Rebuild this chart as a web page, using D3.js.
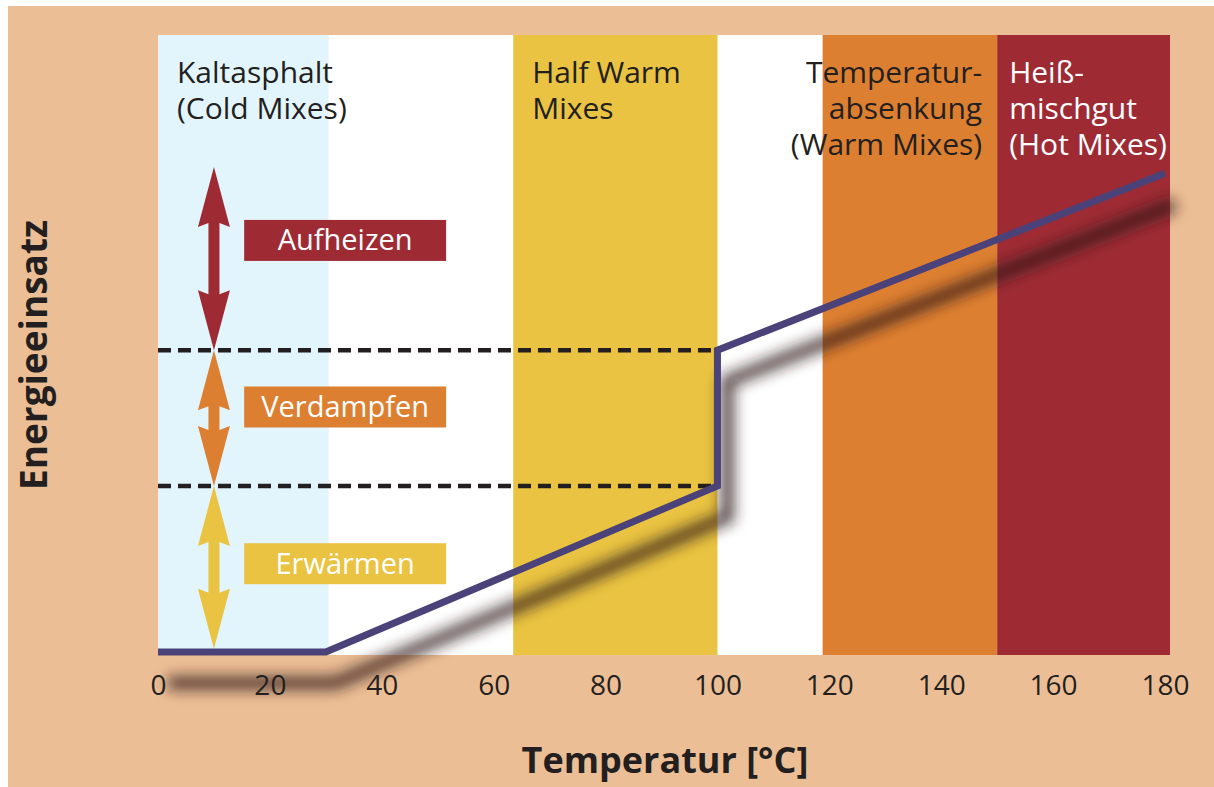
<!DOCTYPE html>
<html>
<head>
<meta charset="utf-8">
<script src="https://cdn.jsdelivr.net/npm/d3@7"></script>
<style>
  html, body { margin: 0; padding: 0; background: #ffffff; }
  svg { display: block; }
  text { font-family: "Open Sans", "Noto Sans", sans-serif; }
</style>
</head>
<body>
<svg id="chart" width="1214" height="787"></svg>
<script>
// ---------- data ----------
const tempTicks = [0, 20, 40, 60, 80, 100, 120, 140, 160, 180];

const bandKeys   = ["cold", "half", "warm", "hot"];
const bandStart  = [0, 63.5, 118.8, 150];
const bandEnd    = [30.5, 100, 150, 180.9];
const bandColors = ["#e3f5fc", "#e9c341", "#dd7f31", "#9e2b34"];
const bandLabels = [
  ["Kaltasphalt", "(Cold Mixes)"],
  ["Half Warm", "Mixes"],
  ["Temperatur-", "absenkung", "(Warm Mixes)"],
  ["Heiß-", "mischgut", "(Hot Mixes)"]
];

const curveTemp   = [0, 30, 100, 100, 180];
const curveEnergy = [0, 0, 26.9, 48.9, 77.6];

const levelEnergy = [26.9, 48.9];

const phaseNames   = ["Erwärmen", "Verdampfen", "Aufheizen"];
const phaseFrom    = [0.5, 26.9, 48.9];
const phaseTo      = [26.9, 48.9, 78.6];
const phaseLabelAt = [14.3, 39.7, 66.7];
const phaseColors  = ["#e9c341", "#dd7f31", "#9e2b34"];
const phaseArrowTemp = 10;

// ---------- layout ----------
const svg = d3.select("#chart");
const x = d3.scaleLinear().domain([0, 180]).range([158, 1165]);
const y = d3.scaleLinear().domain([-0.5, 100]).range([655, 35]);
const plotTop = 35, plotBottom = 655;

// page background
svg.append("rect").attr("x", 8).attr("y", 6).attr("width", 1206).attr("height", 781)
  .attr("fill", "#ecbe95");

// plot white area
svg.append("rect").attr("x", x(0)).attr("y", plotTop)
  .attr("width", x(180.9) - x(0)).attr("height", plotBottom - plotTop)
  .attr("fill", "#ffffff");

// bands
svg.append("g").selectAll("rect").data(bandKeys).join("rect")
  .attr("x", (d, i) => x(bandStart[i]))
  .attr("y", plotTop)
  .attr("width", (d, i) => x(bandEnd[i]) - x(bandStart[i]))
  .attr("height", plotBottom - plotTop)
  .attr("fill", (d, i) => bandColors[i]);

// band labels (one text per line)
const lh = 36;
const bandLabelG = svg.append("g");
bandKeys.forEach((k, i) => {
  let tx, anchor, fill = "#231f20";
  if (k === "warm") { tx = x(bandEnd[i]) - 15; anchor = "end"; }
  else if (k === "hot") { tx = x(bandStart[i]) + 12; anchor = "start"; fill = "#ffffff"; }
  else { tx = x(bandStart[i]) + 19; anchor = "start"; }
  bandLabels[i].forEach((line, j) => {
    bandLabelG.append("text")
      .attr("x", tx).attr("y", 83 + j * lh)
      .attr("text-anchor", anchor)
      .attr("font-size", 30)
      .attr("fill", fill)
      .text(line);
  });
});

// dashed level lines
svg.append("g").selectAll("line").data(levelEnergy).join("line")
  .attr("x1", x(0)).attr("x2", x(100))
  .attr("y1", d => y(d)).attr("y2", d => y(d))
  .attr("stroke", "#231f20").attr("stroke-width", 4.5)
  .attr("stroke-dasharray", "13,7");

// double arrows
function arrowPath(cx, yTop, yBot) {
  const hw = 5.5, bw = 16, hl = 60, notch = 4;
  return [
    [cx, yTop],
    [cx + bw, yTop + hl],
    [cx + hw, yTop + hl - notch],
    [cx + hw, yBot - hl + notch],
    [cx + bw, yBot - hl],
    [cx, yBot],
    [cx - bw, yBot - hl],
    [cx - hw, yBot - hl + notch],
    [cx - hw, yTop + hl - notch],
    [cx - bw, yTop + hl]
  ];
}
svg.append("g").selectAll("path").data(phaseNames).join("path")
  .attr("d", (d, i) => d3.line()(arrowPath(x(phaseArrowTemp), y(phaseTo[i]), y(phaseFrom[i]))) + "Z")
  .attr("fill", (d, i) => phaseColors[i]);

// phase label boxes
const boxX0 = x(15.4), boxX1 = x(51.5), boxH = 41;
const pg = svg.append("g").selectAll("g").data(phaseNames).join("g");
pg.append("rect")
  .attr("x", boxX0).attr("width", boxX1 - boxX0)
  .attr("y", (d, i) => y(phaseLabelAt[i]) - boxH / 2)
  .attr("height", boxH)
  .attr("fill", (d, i) => phaseColors[i]);
pg.append("text")
  .attr("x", (boxX0 + boxX1) / 2)
  .attr("y", (d, i) => y(phaseLabelAt[i]) + 10)
  .attr("text-anchor", "middle")
  .attr("font-size", 29)
  .attr("fill", "#ffffff")
  .text(d => d);

// curve shadow + curve
const pts = curveTemp.map((t, i) => [t, curveEnergy[i]]);
const line = d3.line().x(d => x(d[0])).y(d => y(d[1]));
const defs = svg.append("defs");
defs.append("filter").attr("id", "blur").attr("x", "-20%").attr("y", "-20%")
  .attr("width", "140%").attr("height", "140%")
  .append("feGaussianBlur").attr("stdDeviation", 7);
svg.append("path").datum(pts)
  .attr("d", line)
  .attr("transform", "translate(10,31)")
  .attr("fill", "none")
  .attr("stroke", "rgba(45,30,30,0.75)")
  .attr("stroke-width", 14)
  .attr("filter", "url(#blur)");
svg.append("path").datum(pts)
  .attr("d", line)
  .attr("fill", "none")
  .attr("stroke", "#4b4279")
  .attr("stroke-width", 7)
  .attr("stroke-linejoin", "miter");

// x axis (labels only)
const xAxis = d3.axisBottom(x).tickValues(tempTicks).tickSize(0).tickPadding(0).tickFormat(d3.format("d"));
const ax = svg.append("g").attr("transform", `translate(0,${plotBottom})`).call(xAxis);
ax.select(".domain").remove();
ax.selectAll("text")
  .attr("font-family", "'Open Sans', sans-serif")
  .attr("font-size", 28)
  .attr("fill", "#231f20")
  .attr("dy", 0)
  .attr("y", 40);

// axis titles
svg.append("text")
  .attr("x", 665).attr("y", 773)
  .attr("text-anchor", "middle")
  .attr("font-size", 36).attr("font-weight", "bold")
  .attr("fill", "#231f20")
  .text("Temperatur [°C]");

svg.append("text")
  .attr("transform", "translate(47,355) rotate(-90)")
  .attr("text-anchor", "middle")
  .attr("font-size", 37).attr("font-weight", "bold")
  .attr("fill", "#231f20")
  .text("Energieeinsatz");
</script>
</body>
</html>
